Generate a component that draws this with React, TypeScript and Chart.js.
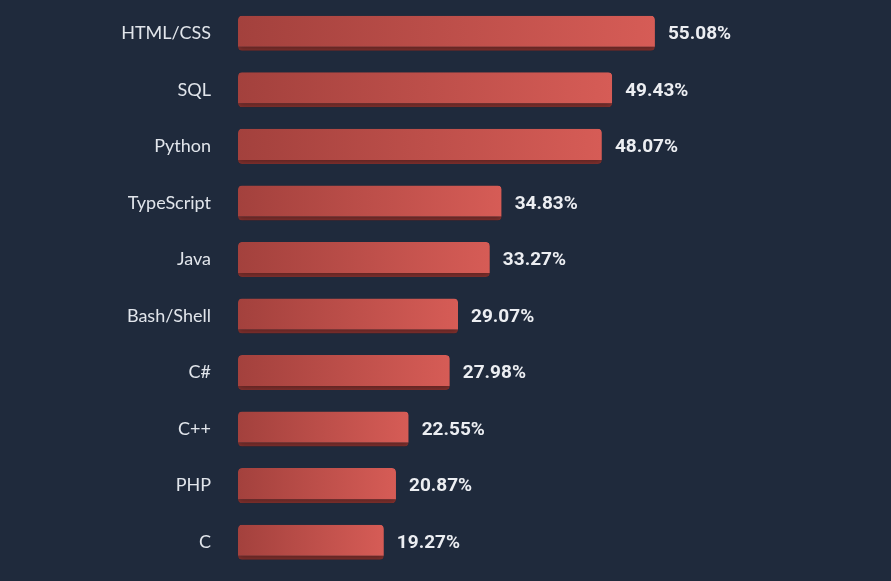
import React, { useEffect, useRef } from "react";
import { Chart, registerables } from "chart.js";

Chart.register(...registerables);

const categories = [
  "HTML/CSS",
  "SQL",
  "Python",
  "TypeScript",
  "Java",
  "Bash/Shell",
  "C#",
  "C++",
  "PHP",
  "C",
  "Go",
];

const values = [55.08, 49.43, 48.07, 34.83, 33.27, 29.07, 27.98, 22.55, 20.87, 19.27, 11.9];

const BG = "#1f2a3c";

const shadowPlugin = {
  id: "barShadow",
  beforeDatasetsDraw(chart: any) {
    const ctx = chart.ctx;
    ctx.save();
    ctx.shadowColor = "rgba(0,0,0,0.35)";
    ctx.shadowBlur = 6;
    ctx.shadowOffsetY = 2;
  },
  afterDatasetsDraw(chart: any) {
    chart.ctx.restore();
  },
};

const valueLabelPlugin = {
  id: "valueLabels",
  afterDatasetsDraw(chart: any) {
    const ctx = chart.ctx;
    const meta = chart.getDatasetMeta(0);
    ctx.save();
    ctx.font = "bold 19px Roboto, 'Liberation Sans', sans-serif";
    ctx.fillStyle = "#eceef2";
    ctx.textAlign = "left";
    ctx.textBaseline = "middle";
    meta.data.forEach((el: any, i: number) => {
      const v = chart.data.datasets[0].data[i] as number;
      ctx.fillText(`${v.toFixed(2)}%`, el.x + 13, el.y + 1);
    });
    ctx.restore();
  },
};

export default function App() {
  const ref = useRef<HTMLCanvasElement | null>(null);

  useEffect(() => {
    if (!ref.current) return;
    const chart = new Chart(ref.current, {
      type: "bar",
      data: {
        labels: categories,
        datasets: [
          {
            data: values,
            backgroundColor: (c: any) => {
              const ch = c.chart;
              const xs = ch.scales && ch.scales.x;
              if (!xs || c.raw === undefined) return "#c0504b";
              const x0 = xs.getPixelForValue(0);
              const x1 = xs.getPixelForValue(c.raw);
              if (!isFinite(x0) || !isFinite(x1) || x1 <= x0) return "#c0504b";
              const g = ch.ctx.createLinearGradient(x0, 0, x1, 0);
              g.addColorStop(0, "#a3413d");
              g.addColorStop(1, "#d65c56");
              return g;
            },
            borderColor: "#86322f",
            borderWidth: { top: 0, left: 0, right: 0, bottom: 4 } as any,
            borderSkipped: false,
            borderRadius: 4,
            categoryPercentage: 1,
            barPercentage: 0.62,
          },
        ],
      },
      options: {
        indexAxis: "y",
        responsive: true,
        maintainAspectRatio: false,
        animation: false,
        events: [],
        layout: { padding: { top: 5, bottom: 3, left: 0, right: 2 } },
        plugins: {
          legend: { display: false },
          tooltip: { enabled: false },
        },
        scales: {
          x: {
            display: false,
            min: 0,
            max: 86,
          },
          y: {
            afterFit: (s: any) => {
              s.width = 238;
              s.paddingTop = 0;
              s.paddingBottom = 0;
            },
            border: { display: false },
            grid: { display: false, drawTicks: false },
            ticks: {
              color: "#e1e5eb",
              padding: 27,
              font: { family: "Lato, 'Open Sans', sans-serif", size: 18 },
            },
          },
        },
      },
      plugins: [shadowPlugin, valueLabelPlugin],
    });
    return () => chart.destroy();
  }, []);

  return (
    <div
      style={{
        position: "fixed",
        left: 0,
        top: 0,
        width: 891,
        height: 581,
        overflow: "hidden",
        background: BG,
      }}
    >
      <div style={{ position: "absolute", left: 0, top: 0, width: 891, height: 630 }}>
        <canvas ref={ref} style={{ display: "block" }} />
      </div>
    </div>
  );
}
